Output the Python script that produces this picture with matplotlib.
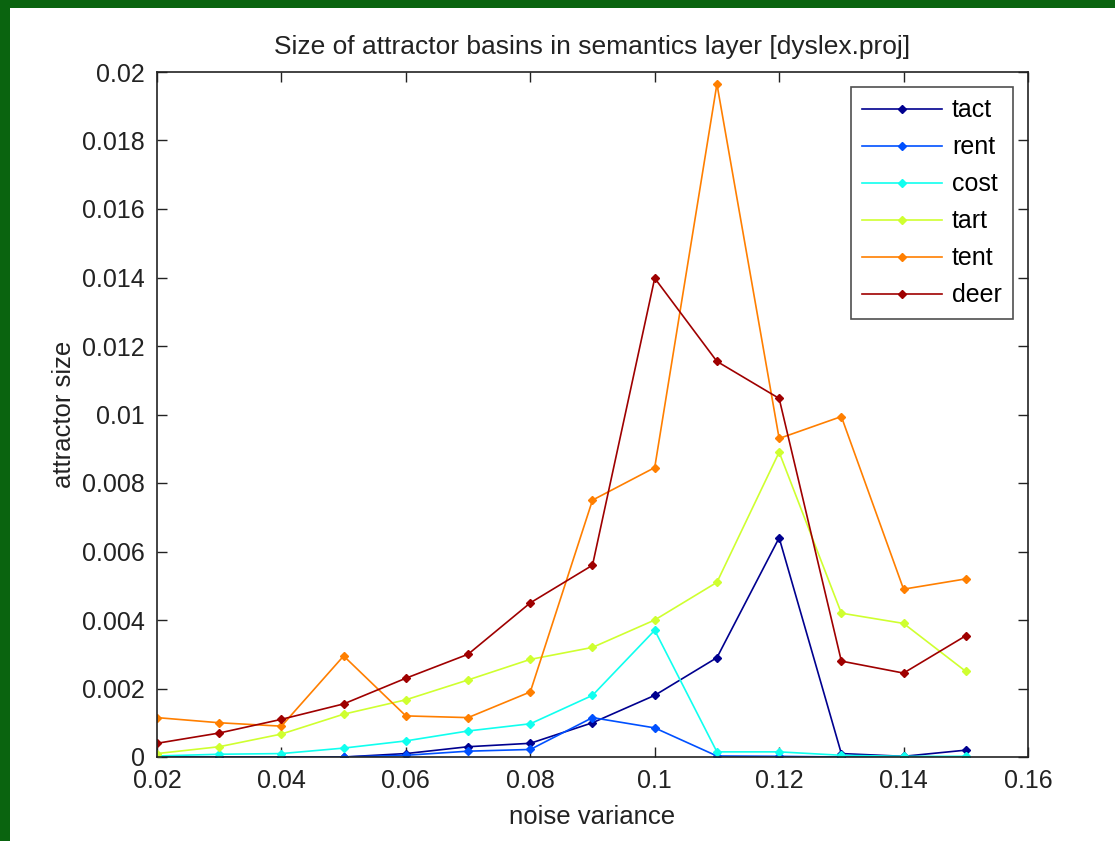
import numpy as np
import matplotlib
matplotlib.use("Agg")
import matplotlib.pyplot as plt
from matplotlib.patches import Rectangle

plt.rcParams['font.family'] = ['Liberation Sans', 'DejaVu Sans']

noise = [0.02, 0.03, 0.04, 0.05, 0.06, 0.07, 0.08, 0.09, 0.10, 0.11, 0.12, 0.13, 0.14, 0.15]

tact = [0.0, 0.0, 0.0, 0.0, 0.0001, 0.0003, 0.0004, 0.0010, 0.0018, 0.0029, 0.0064, 0.0001, 0.00002, 0.0002]
rent = [0.0, 0.0, 0.0, 0.0, 0.00005, 0.00017, 0.00022, 0.00115, 0.00085, 0.00003, 0.00002, 0.0, 0.0, 0.0]
cost = [0.00003, 0.00008, 0.0001, 0.00026, 0.00047, 0.00076, 0.00097, 0.0018, 0.0037, 0.00015, 0.00015, 0.00005, 0.00002, 0.00002]
tart = [0.0001, 0.0003, 0.00067, 0.00125, 0.00167, 0.00225, 0.00285, 0.0032, 0.0040, 0.0051, 0.0089, 0.0042, 0.0039, 0.0025]
tent = [0.00115, 0.001, 0.0009, 0.00295, 0.0012, 0.00115, 0.0019, 0.0075, 0.00845, 0.01965, 0.0093, 0.00994, 0.0049, 0.0052]
deer = [0.0004, 0.0007, 0.0011, 0.00155, 0.0023, 0.0030, 0.0045, 0.0056, 0.01398, 0.01155, 0.01047, 0.0028, 0.00245, 0.00354]

names = ['tact', 'rent', 'cost', 'tart', 'tent', 'deer']
series = [tact, rent, cost, tart, tent, deer]
colors = ['#00008f', '#0050ff', '#10ffef', '#cfff30', '#ff7f00', '#9f0000']

fig = plt.figure(figsize=(11.15, 8.41), dpi=100)
fig.patch.set_facecolor('#0a640f')
# white panel inside the green frame
fig.patches.append(Rectangle((10 / 1115, 0), 1 - 10 / 1115, 1 - 8 / 841,
                             transform=fig.transFigure, facecolor='white',
                             edgecolor='none', zorder=-10))

ax = fig.add_axes([157 / 1115, 84 / 841, 871 / 1115, 685 / 841])
for vals, name, c in zip(series, names, colors):
    ax.plot(noise, vals, '-D', color=c, lw=1.2, ms=4, label=name)

ax.set_xlim(0.02, 0.16)
ax.set_ylim(0, 0.02)
xt = np.arange(0.02, 0.161, 0.02)
yt = np.arange(0, 0.0201, 0.002)
ax.set_xticks(xt)
ax.set_yticks(yt)
ax.set_xticklabels(['%g' % round(v, 3) for v in xt])
ax.set_yticklabels(['%g' % round(v, 3) for v in yt])
ax.tick_params(direction='in', length=7, width=1, top=True, right=True,
               labelsize=18, pad=9, colors='#222222')
for s in ax.spines.values():
    s.set_linewidth(1.2)
    s.set_color('#222222')

ax.set_title('Size of attractor basins in semantics layer [dyslex.proj]',
             fontsize=19, pad=13, color='#222222')
ax.set_xlabel('noise variance', fontsize=18.5, labelpad=8, color='#222222')
ax.set_ylabel('attractor size', fontsize=18.5, labelpad=4, color='#222222')

leg = ax.legend(loc='upper right', fontsize=18, frameon=True, fancybox=False,
                edgecolor='#222222', handlelength=3.2, labelspacing=0.52,
                borderaxespad=0.6, handletextpad=0.4, borderpad=0.45)
leg.get_frame().set_linewidth(1.2)

fig.savefig('out.png', dpi=100, facecolor=fig.get_facecolor())
